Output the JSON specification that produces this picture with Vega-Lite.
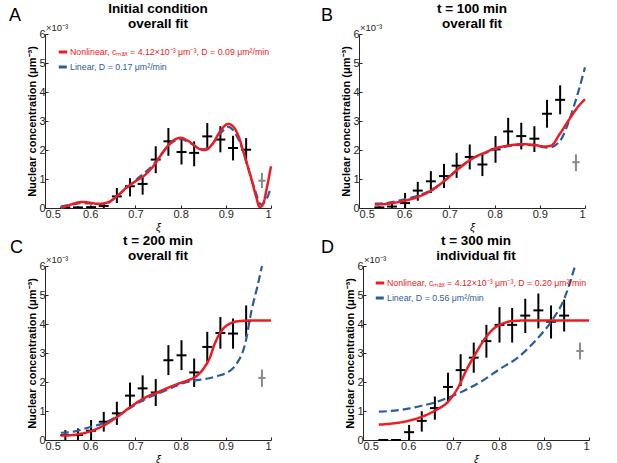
{
  "$schema": "https://vega.github.io/schema/vega-lite/v6.json",
  "background": "white",
  "padding": {"left": 9, "top": 1, "right": 0, "bottom": 0},
  "config": {
    "font": "Liberation Sans",
    "view": {"stroke": null},
    "axis": {"grid": false, "domainColor": "#262626", "tickColor": "#262626", "labelColor": "#262626", "labelFontSize": 11, "labelOverlap": false, "tickSize": -3, "labelPadding": 3, "titleColor": "#000000", "titleFontSize": 11, "titleFontWeight": "bold", "domainWidth": 1},
    "title": {"fontSize": 13.5, "fontWeight": "bold", "lineHeight": 15, "color": "#000000", "offset": -23}
  },
  "datasets": {
    "pts": [
      {"panel":"A","kind":"fit","xi":0.545,"c":0.02,"lo":0,"hi":0.06,"xlo":0.534,"xhi":0.556},
      {"panel":"A","kind":"fit","xi":0.573,"c":0.02,"lo":0,"hi":0.06,"xlo":0.562,"xhi":0.584},
      {"panel":"A","kind":"fit","xi":0.602,"c":0.03,"lo":0,"hi":0.08,"xlo":0.591,"xhi":0.613},
      {"panel":"A","kind":"fit","xi":0.630,"c":0.07,"lo":0,"hi":0.17,"xlo":0.619,"xhi":0.641},
      {"panel":"A","kind":"fit","xi":0.659,"c":0.40,"lo":0.17,"hi":0.69,"xlo":0.648,"xhi":0.670},
      {"panel":"A","kind":"fit","xi":0.688,"c":0.75,"lo":0.40,"hi":1.03,"xlo":0.677,"xhi":0.699},
      {"panel":"A","kind":"fit","xi":0.716,"c":0.83,"lo":0.46,"hi":1.09,"xlo":0.705,"xhi":0.727},
      {"panel":"A","kind":"fit","xi":0.745,"c":1.67,"lo":1.20,"hi":2.13,"xlo":0.734,"xhi":0.756},
      {"panel":"A","kind":"fit","xi":0.773,"c":2.30,"lo":1.80,"hi":2.76,"xlo":0.762,"xhi":0.784},
      {"panel":"A","kind":"fit","xi":0.802,"c":1.93,"lo":1.50,"hi":2.41,"xlo":0.791,"xhi":0.813},
      {"panel":"A","kind":"fit","xi":0.830,"c":1.90,"lo":1.44,"hi":2.30,"xlo":0.819,"xhi":0.841},
      {"panel":"A","kind":"fit","xi":0.859,"c":2.47,"lo":2.00,"hi":2.93,"xlo":0.848,"xhi":0.870},
      {"panel":"A","kind":"fit","xi":0.888,"c":2.36,"lo":1.92,"hi":2.82,"xlo":0.877,"xhi":0.899},
      {"panel":"A","kind":"fit","xi":0.916,"c":2.07,"lo":1.64,"hi":2.49,"xlo":0.905,"xhi":0.927},
      {"panel":"A","kind":"fit","xi":0.945,"c":2.01,"lo":1.55,"hi":2.41,"xlo":0.934,"xhi":0.956},
      {"panel":"A","kind":"excluded","xi":0.980,"c":0.94,"lo":0.69,"hi":1.21,"xlo":0.972,"xhi":0.988},
      {"panel":"B","kind":"fit","xi":0.545,"c":0.02,"lo":0,"hi":0.06,"xlo":0.534,"xhi":0.556},
      {"panel":"B","kind":"fit","xi":0.573,"c":0.05,"lo":0,"hi":0.15,"xlo":0.562,"xhi":0.584},
      {"panel":"B","kind":"fit","xi":0.602,"c":0.17,"lo":0,"hi":0.52,"xlo":0.591,"xhi":0.613},
      {"panel":"B","kind":"fit","xi":0.630,"c":0.60,"lo":0.25,"hi":0.90,"xlo":0.619,"xhi":0.641},
      {"panel":"B","kind":"fit","xi":0.659,"c":0.92,"lo":0.52,"hi":1.27,"xlo":0.648,"xhi":0.670},
      {"panel":"B","kind":"fit","xi":0.688,"c":1.10,"lo":0.69,"hi":1.52,"xlo":0.677,"xhi":0.699},
      {"panel":"B","kind":"fit","xi":0.716,"c":1.46,"lo":1.04,"hi":1.90,"xlo":0.705,"xhi":0.727},
      {"panel":"B","kind":"fit","xi":0.745,"c":1.76,"lo":1.33,"hi":2.19,"xlo":0.734,"xhi":0.756},
      {"panel":"B","kind":"fit","xi":0.773,"c":1.50,"lo":1.10,"hi":1.90,"xlo":0.762,"xhi":0.784},
      {"panel":"B","kind":"fit","xi":0.802,"c":2.02,"lo":1.56,"hi":2.48,"xlo":0.791,"xhi":0.813},
      {"panel":"B","kind":"fit","xi":0.830,"c":2.64,"lo":2.13,"hi":3.11,"xlo":0.819,"xhi":0.841},
      {"panel":"B","kind":"fit","xi":0.859,"c":2.48,"lo":2.02,"hi":2.94,"xlo":0.848,"xhi":0.870},
      {"panel":"B","kind":"fit","xi":0.888,"c":2.39,"lo":1.93,"hi":2.82,"xlo":0.877,"xhi":0.899},
      {"panel":"B","kind":"fit","xi":0.916,"c":3.25,"lo":2.77,"hi":3.73,"xlo":0.905,"xhi":0.927},
      {"panel":"B","kind":"fit","xi":0.945,"c":3.73,"lo":3.23,"hi":4.23,"xlo":0.934,"xhi":0.956},
      {"panel":"B","kind":"excluded","xi":0.980,"c":1.58,"lo":1.27,"hi":1.85,"xlo":0.972,"xhi":0.988},
      {"panel":"C","kind":"fit","xi":0.545,"c":0.17,"lo":0,"hi":0.34,"xlo":0.534,"xhi":0.556},
      {"panel":"C","kind":"fit","xi":0.573,"c":0.17,"lo":0,"hi":0.40,"xlo":0.562,"xhi":0.584},
      {"panel":"C","kind":"fit","xi":0.602,"c":0.32,"lo":0,"hi":0.69,"xlo":0.591,"xhi":0.613},
      {"panel":"C","kind":"fit","xi":0.630,"c":0.63,"lo":0.29,"hi":0.97,"xlo":0.619,"xhi":0.641},
      {"panel":"C","kind":"fit","xi":0.659,"c":0.92,"lo":0.52,"hi":1.32,"xlo":0.648,"xhi":0.670},
      {"panel":"C","kind":"fit","xi":0.688,"c":1.53,"lo":1.07,"hi":1.98,"xlo":0.677,"xhi":0.699},
      {"panel":"C","kind":"fit","xi":0.716,"c":1.78,"lo":1.32,"hi":2.23,"xlo":0.705,"xhi":0.727},
      {"panel":"C","kind":"fit","xi":0.745,"c":1.64,"lo":1.17,"hi":2.10,"xlo":0.734,"xhi":0.756},
      {"panel":"C","kind":"fit","xi":0.773,"c":2.75,"lo":2.24,"hi":3.27,"xlo":0.762,"xhi":0.784},
      {"panel":"C","kind":"fit","xi":0.802,"c":2.92,"lo":2.41,"hi":3.44,"xlo":0.791,"xhi":0.813},
      {"panel":"C","kind":"fit","xi":0.830,"c":2.33,"lo":1.83,"hi":2.81,"xlo":0.819,"xhi":0.841},
      {"panel":"C","kind":"fit","xi":0.859,"c":3.21,"lo":2.70,"hi":3.73,"xlo":0.848,"xhi":0.870},
      {"panel":"C","kind":"fit","xi":0.888,"c":3.69,"lo":3.15,"hi":4.24,"xlo":0.877,"xhi":0.899},
      {"panel":"C","kind":"fit","xi":0.916,"c":3.67,"lo":3.15,"hi":4.19,"xlo":0.905,"xhi":0.927},
      {"panel":"C","kind":"fit","xi":0.945,"c":4.10,"lo":3.56,"hi":4.64,"xlo":0.934,"xhi":0.956},
      {"panel":"C","kind":"excluded","xi":0.980,"c":2.14,"lo":1.83,"hi":2.43,"xlo":0.972,"xhi":0.988},
      {"panel":"D","kind":"fit","xi":0.545,"c":0.0,"lo":0,"hi":0.02,"xlo":0.534,"xhi":0.556},
      {"panel":"D","kind":"fit","xi":0.573,"c":0.0,"lo":0,"hi":0.02,"xlo":0.562,"xhi":0.584},
      {"panel":"D","kind":"fit","xi":0.602,"c":0.27,"lo":0,"hi":0.52,"xlo":0.591,"xhi":0.613},
      {"panel":"D","kind":"fit","xi":0.630,"c":0.66,"lo":0.29,"hi":0.99,"xlo":0.619,"xhi":0.641},
      {"panel":"D","kind":"fit","xi":0.659,"c":1.10,"lo":0.70,"hi":1.50,"xlo":0.648,"xhi":0.670},
      {"panel":"D","kind":"fit","xi":0.688,"c":1.83,"lo":1.33,"hi":2.32,"xlo":0.677,"xhi":0.699},
      {"panel":"D","kind":"fit","xi":0.716,"c":2.41,"lo":1.86,"hi":2.96,"xlo":0.705,"xhi":0.727},
      {"panel":"D","kind":"fit","xi":0.745,"c":2.84,"lo":2.32,"hi":3.36,"xlo":0.734,"xhi":0.756},
      {"panel":"D","kind":"fit","xi":0.773,"c":3.41,"lo":2.84,"hi":3.97,"xlo":0.762,"xhi":0.784},
      {"panel":"D","kind":"fit","xi":0.802,"c":3.97,"lo":3.36,"hi":4.58,"xlo":0.791,"xhi":0.813},
      {"panel":"D","kind":"fit","xi":0.830,"c":3.97,"lo":3.36,"hi":4.55,"xlo":0.819,"xhi":0.841},
      {"panel":"D","kind":"fit","xi":0.859,"c":4.29,"lo":3.69,"hi":4.87,"xlo":0.848,"xhi":0.870},
      {"panel":"D","kind":"fit","xi":0.888,"c":4.47,"lo":3.85,"hi":5.05,"xlo":0.877,"xhi":0.899},
      {"panel":"D","kind":"fit","xi":0.916,"c":4.08,"lo":3.50,"hi":4.64,"xlo":0.905,"xhi":0.927},
      {"panel":"D","kind":"fit","xi":0.945,"c":4.29,"lo":3.74,"hi":4.84,"xlo":0.934,"xhi":0.956},
      {"panel":"D","kind":"excluded","xi":0.980,"c":3.07,"lo":2.78,"hi":3.36,"xlo":0.972,"xhi":0.988}
    ],
    "curves": [
      {"panel":"A","model":"Nonlinear","xi":0.535,"c":0.0},
      {"panel":"A","model":"Nonlinear","xi":0.55,"c":0.08},
      {"panel":"A","model":"Nonlinear","xi":0.57,"c":0.18},
      {"panel":"A","model":"Nonlinear","xi":0.585,"c":0.21},
      {"panel":"A","model":"Nonlinear","xi":0.60,"c":0.18},
      {"panel":"A","model":"Nonlinear","xi":0.62,"c":0.14},
      {"panel":"A","model":"Nonlinear","xi":0.64,"c":0.2},
      {"panel":"A","model":"Nonlinear","xi":0.66,"c":0.42},
      {"panel":"A","model":"Nonlinear","xi":0.68,"c":0.7},
      {"panel":"A","model":"Nonlinear","xi":0.70,"c":0.92},
      {"panel":"A","model":"Nonlinear","xi":0.72,"c":1.12},
      {"panel":"A","model":"Nonlinear","xi":0.74,"c":1.45},
      {"panel":"A","model":"Nonlinear","xi":0.76,"c":1.9},
      {"panel":"A","model":"Nonlinear","xi":0.78,"c":2.28},
      {"panel":"A","model":"Nonlinear","xi":0.80,"c":2.42},
      {"panel":"A","model":"Nonlinear","xi":0.82,"c":2.28},
      {"panel":"A","model":"Nonlinear","xi":0.84,"c":2.05},
      {"panel":"A","model":"Nonlinear","xi":0.855,"c":2.0},
      {"panel":"A","model":"Nonlinear","xi":0.87,"c":2.2},
      {"panel":"A","model":"Nonlinear","xi":0.89,"c":2.7},
      {"panel":"A","model":"Nonlinear","xi":0.905,"c":2.9},
      {"panel":"A","model":"Nonlinear","xi":0.918,"c":2.78},
      {"panel":"A","model":"Nonlinear","xi":0.928,"c":2.48},
      {"panel":"A","model":"Nonlinear","xi":0.942,"c":1.78},
      {"panel":"A","model":"Nonlinear","xi":0.957,"c":0.98},
      {"panel":"A","model":"Nonlinear","xi":0.967,"c":0.4},
      {"panel":"A","model":"Nonlinear","xi":0.975,"c":0.03},
      {"panel":"A","model":"Nonlinear","xi":0.983,"c":0.15},
      {"panel":"A","model":"Nonlinear","xi":0.99,"c":0.63},
      {"panel":"A","model":"Nonlinear","xi":1.0,"c":1.44},
      {"panel":"A","model":"Linear","xi":0.535,"c":0.05},
      {"panel":"A","model":"Linear","xi":0.56,"c":0.12},
      {"panel":"A","model":"Linear","xi":0.585,"c":0.17},
      {"panel":"A","model":"Linear","xi":0.61,"c":0.14},
      {"panel":"A","model":"Linear","xi":0.635,"c":0.15},
      {"panel":"A","model":"Linear","xi":0.66,"c":0.42},
      {"panel":"A","model":"Linear","xi":0.70,"c":0.95},
      {"panel":"A","model":"Linear","xi":0.74,"c":1.5},
      {"panel":"A","model":"Linear","xi":0.78,"c":2.25},
      {"panel":"A","model":"Linear","xi":0.80,"c":2.38},
      {"panel":"A","model":"Linear","xi":0.82,"c":2.25},
      {"panel":"A","model":"Linear","xi":0.85,"c":2.02},
      {"panel":"A","model":"Linear","xi":0.87,"c":2.2},
      {"panel":"A","model":"Linear","xi":0.89,"c":2.6},
      {"panel":"A","model":"Linear","xi":0.905,"c":2.8},
      {"panel":"A","model":"Linear","xi":0.92,"c":2.6},
      {"panel":"A","model":"Linear","xi":0.935,"c":2.1},
      {"panel":"A","model":"Linear","xi":0.95,"c":1.35},
      {"panel":"A","model":"Linear","xi":0.965,"c":0.6},
      {"panel":"A","model":"Linear","xi":0.978,"c":0.12},
      {"panel":"A","model":"Linear","xi":0.99,"c":0.3},
      {"panel":"A","model":"Linear","xi":1.0,"c":0.72},
      {"panel":"B","model":"Nonlinear","xi":0.535,"c":0.12},
      {"panel":"B","model":"Nonlinear","xi":0.56,"c":0.14},
      {"panel":"B","model":"Nonlinear","xi":0.60,"c":0.25},
      {"panel":"B","model":"Nonlinear","xi":0.63,"c":0.38},
      {"panel":"B","model":"Nonlinear","xi":0.66,"c":0.6},
      {"panel":"B","model":"Nonlinear","xi":0.69,"c":0.95},
      {"panel":"B","model":"Nonlinear","xi":0.72,"c":1.35},
      {"panel":"B","model":"Nonlinear","xi":0.75,"c":1.7},
      {"panel":"B","model":"Nonlinear","xi":0.78,"c":1.92},
      {"panel":"B","model":"Nonlinear","xi":0.80,"c":2.05},
      {"panel":"B","model":"Nonlinear","xi":0.83,"c":2.15},
      {"panel":"B","model":"Nonlinear","xi":0.86,"c":2.2},
      {"panel":"B","model":"Nonlinear","xi":0.89,"c":2.17},
      {"panel":"B","model":"Nonlinear","xi":0.91,"c":2.12},
      {"panel":"B","model":"Nonlinear","xi":0.925,"c":2.15},
      {"panel":"B","model":"Nonlinear","xi":0.944,"c":2.55},
      {"panel":"B","model":"Nonlinear","xi":0.97,"c":3.17},
      {"panel":"B","model":"Nonlinear","xi":0.985,"c":3.5},
      {"panel":"B","model":"Nonlinear","xi":1.0,"c":3.75},
      {"panel":"B","model":"Linear","xi":0.535,"c":0.15},
      {"panel":"B","model":"Linear","xi":0.56,"c":0.17},
      {"panel":"B","model":"Linear","xi":0.60,"c":0.3},
      {"panel":"B","model":"Linear","xi":0.63,"c":0.42},
      {"panel":"B","model":"Linear","xi":0.66,"c":0.62},
      {"panel":"B","model":"Linear","xi":0.69,"c":0.95},
      {"panel":"B","model":"Linear","xi":0.72,"c":1.35},
      {"panel":"B","model":"Linear","xi":0.75,"c":1.7},
      {"panel":"B","model":"Linear","xi":0.78,"c":1.9},
      {"panel":"B","model":"Linear","xi":0.80,"c":2.02},
      {"panel":"B","model":"Linear","xi":0.83,"c":2.13},
      {"panel":"B","model":"Linear","xi":0.86,"c":2.18},
      {"panel":"B","model":"Linear","xi":0.89,"c":2.15},
      {"panel":"B","model":"Linear","xi":0.92,"c":2.08},
      {"panel":"B","model":"Linear","xi":0.944,"c":2.3},
      {"panel":"B","model":"Linear","xi":0.97,"c":3.25},
      {"panel":"B","model":"Linear","xi":0.985,"c":4.0},
      {"panel":"B","model":"Linear","xi":1.0,"c":4.85},
      {"panel":"C","model":"Nonlinear","xi":0.535,"c":0.15},
      {"panel":"C","model":"Nonlinear","xi":0.56,"c":0.17},
      {"panel":"C","model":"Nonlinear","xi":0.60,"c":0.3},
      {"panel":"C","model":"Nonlinear","xi":0.63,"c":0.5},
      {"panel":"C","model":"Nonlinear","xi":0.66,"c":0.8},
      {"panel":"C","model":"Nonlinear","xi":0.69,"c":1.15},
      {"panel":"C","model":"Nonlinear","xi":0.72,"c":1.45},
      {"panel":"C","model":"Nonlinear","xi":0.75,"c":1.65},
      {"panel":"C","model":"Nonlinear","xi":0.78,"c":1.85},
      {"panel":"C","model":"Nonlinear","xi":0.80,"c":1.97},
      {"panel":"C","model":"Nonlinear","xi":0.82,"c":2.08},
      {"panel":"C","model":"Nonlinear","xi":0.835,"c":2.2},
      {"panel":"C","model":"Nonlinear","xi":0.85,"c":2.45},
      {"panel":"C","model":"Nonlinear","xi":0.865,"c":2.85},
      {"panel":"C","model":"Nonlinear","xi":0.875,"c":3.3},
      {"panel":"C","model":"Nonlinear","xi":0.89,"c":3.75},
      {"panel":"C","model":"Nonlinear","xi":0.91,"c":4.02},
      {"panel":"C","model":"Nonlinear","xi":0.93,"c":4.1},
      {"panel":"C","model":"Nonlinear","xi":0.96,"c":4.12},
      {"panel":"C","model":"Nonlinear","xi":1.0,"c":4.12},
      {"panel":"C","model":"Linear","xi":0.535,"c":0.25},
      {"panel":"C","model":"Linear","xi":0.56,"c":0.28},
      {"panel":"C","model":"Linear","xi":0.60,"c":0.45},
      {"panel":"C","model":"Linear","xi":0.63,"c":0.58},
      {"panel":"C","model":"Linear","xi":0.66,"c":0.82},
      {"panel":"C","model":"Linear","xi":0.69,"c":1.12},
      {"panel":"C","model":"Linear","xi":0.72,"c":1.4},
      {"panel":"C","model":"Linear","xi":0.75,"c":1.6},
      {"panel":"C","model":"Linear","xi":0.78,"c":1.8},
      {"panel":"C","model":"Linear","xi":0.80,"c":1.93},
      {"panel":"C","model":"Linear","xi":0.83,"c":2.05},
      {"panel":"C","model":"Linear","xi":0.86,"c":2.12},
      {"panel":"C","model":"Linear","xi":0.88,"c":2.2},
      {"panel":"C","model":"Linear","xi":0.90,"c":2.3},
      {"panel":"C","model":"Linear","xi":0.92,"c":2.55},
      {"panel":"C","model":"Linear","xi":0.943,"c":3.33},
      {"panel":"C","model":"Linear","xi":0.957,"c":4.47},
      {"panel":"C","model":"Linear","xi":0.97,"c":5.3},
      {"panel":"C","model":"Linear","xi":0.98,"c":6.0},
      {"panel":"D","model":"Nonlinear","xi":0.535,"c":0.53},
      {"panel":"D","model":"Nonlinear","xi":0.56,"c":0.56},
      {"panel":"D","model":"Nonlinear","xi":0.60,"c":0.66},
      {"panel":"D","model":"Nonlinear","xi":0.63,"c":0.8},
      {"panel":"D","model":"Nonlinear","xi":0.66,"c":1.02},
      {"panel":"D","model":"Nonlinear","xi":0.69,"c":1.35},
      {"panel":"D","model":"Nonlinear","xi":0.71,"c":1.8},
      {"panel":"D","model":"Nonlinear","xi":0.73,"c":2.45},
      {"panel":"D","model":"Nonlinear","xi":0.75,"c":3.0},
      {"panel":"D","model":"Nonlinear","xi":0.77,"c":3.5},
      {"panel":"D","model":"Nonlinear","xi":0.79,"c":3.85},
      {"panel":"D","model":"Nonlinear","xi":0.81,"c":4.02},
      {"panel":"D","model":"Nonlinear","xi":0.83,"c":4.1},
      {"panel":"D","model":"Nonlinear","xi":0.86,"c":4.12},
      {"panel":"D","model":"Nonlinear","xi":1.0,"c":4.12},
      {"panel":"D","model":"Linear","xi":0.535,"c":0.98},
      {"panel":"D","model":"Linear","xi":0.56,"c":1.0},
      {"panel":"D","model":"Linear","xi":0.60,"c":1.08},
      {"panel":"D","model":"Linear","xi":0.63,"c":1.18},
      {"panel":"D","model":"Linear","xi":0.66,"c":1.3},
      {"panel":"D","model":"Linear","xi":0.695,"c":1.5},
      {"panel":"D","model":"Linear","xi":0.73,"c":1.75},
      {"panel":"D","model":"Linear","xi":0.77,"c":2.1},
      {"panel":"D","model":"Linear","xi":0.80,"c":2.42},
      {"panel":"D","model":"Linear","xi":0.843,"c":2.85},
      {"panel":"D","model":"Linear","xi":0.88,"c":3.4},
      {"panel":"D","model":"Linear","xi":0.917,"c":4.1},
      {"panel":"D","model":"Linear","xi":0.946,"c":4.9},
      {"panel":"D","model":"Linear","xi":0.969,"c":6.0}
    ]
  },
  "vconcat": [
    {
      "hconcat": [
        {
          "width": 226, "height": 174,
          "title": {"text": ["Initial condition", "overall fit"]},
          "layer": [
            {"data": {"name": "pts"}, "transform": [{"filter": "datum.panel === 'A'"}], "mark": {"type": "rule", "strokeWidth": 2},
             "encoding": {"x": {"field": "xi", "type": "quantitative", "scale": {"domain": [0.5, 1], "nice": false, "zero": false}, "axis": {"values": [0.5, 0.6, 0.7, 0.8, 0.9, 1], "format": "~g", "labelOverlap": false, "title": "ξ", "titleFontStyle": "italic", "titleFontWeight": "normal", "titleFontSize": 11, "titlePadding": 2}},
                          "y": {"field": "lo", "type": "quantitative", "scale": {"domain": [0, 6], "nice": false}, "axis": {"values": [0, 1, 2, 3, 4, 5, 6], "labelOverlap": false, "tickCount": 7, "title": "Nuclear concentration (μm⁻³)", "titlePadding": 1}},
                          "y2": {"field": "hi"},
                          "color": {"condition": {"test": "datum.kind === 'excluded'", "value": "#8a8a8a"}, "value": "#000000"}}},
            {"data": {"name": "pts"}, "transform": [{"filter": "datum.panel === 'A'"}], "mark": {"type": "rule", "strokeWidth": 2},
             "encoding": {"x": {"field": "xlo", "type": "quantitative"}, "x2": {"field": "xhi"}, "y": {"field": "c", "type": "quantitative"},
                          "color": {"condition": {"test": "datum.kind === 'excluded'", "value": "#8a8a8a"}, "value": "#000000"}}},
            {"data": {"name": "curves"}, "transform": [{"filter": "datum.panel === 'A' && datum.model === 'Linear'"}], "mark": {"type": "line", "strokeWidth": 2.2, "interpolate": "monotone"},
             "encoding": {"x": {"field": "xi", "type": "quantitative"}, "y": {"field": "c", "type": "quantitative"},
                          "color": {"field": "model", "type": "nominal", "scale": {"domain": ["Nonlinear", "Linear"], "range": ["#ec1c24", "#2b5d9b"]},
                                    "legend": {"title": null, "orient": "top-left", "offset": 12, "padding": 0, "symbolType": "stroke", "symbolSize": 72, "symbolStrokeWidth": 3, "labelFontSize": 8.8, "labelLimit": 400, "rowPadding": 3, "labelOffset": 1,
                                               "labelExpr": "datum.value === 'Nonlinear' ? 'Nonlinear, cₘₐₓ = 4.12×10⁻³ μm⁻³, D = 0.09 μm²/min' : 'Linear, D = 0.17 μm²/min'",
                                               "encode": {"labels": {"update": {"fill": {"signal": "datum.value === 'Nonlinear' ? '#ec1c24' : '#2b5d9b'"}}}}}},
                          "strokeDash": {"field": "model", "type": "nominal", "scale": {"domain": ["Nonlinear", "Linear"], "range": [[1, 0], [8, 4]]},
                                    "legend": {"title": null, "orient": "top-left", "offset": 12, "padding": 0, "symbolType": "stroke", "symbolSize": 72, "symbolStrokeWidth": 3, "labelFontSize": 8.8, "labelLimit": 400, "rowPadding": 3, "labelOffset": 1,
                                               "labelExpr": "datum.value === 'Nonlinear' ? 'Nonlinear, cₘₐₓ = 4.12×10⁻³ μm⁻³, D = 0.09 μm²/min' : 'Linear, D = 0.17 μm²/min'",
                                               "encode": {"labels": {"update": {"fill": {"signal": "datum.value === 'Nonlinear' ? '#ec1c24' : '#2b5d9b'"}}}}}}}},
            {"data": {"name": "curves"}, "transform": [{"filter": "datum.panel === 'A' && datum.model === 'Nonlinear'"}], "mark": {"type": "line", "strokeWidth": 2.5, "interpolate": "monotone"},
             "encoding": {"x": {"field": "xi", "type": "quantitative"}, "y": {"field": "c", "type": "quantitative"},
                          "color": {"field": "model", "type": "nominal"}, "strokeDash": {"field": "model", "type": "nominal"}}},
            {"data": {"values": [{"t": "×10⁻³"}]}, "mark": {"type": "text", "fontSize": 9.5, "align": "left", "baseline": "bottom", "dx": 1, "dy": -1, "color": "#262626"},
             "encoding": {"x": {"datum": 0.5}, "y": {"datum": 6}, "text": {"field": "t"}}},
            {"data": {"values": [{"t": "A"}]}, "mark": {"type": "text", "fontSize": 18, "align": "left", "baseline": "top", "dx": -36, "dy": -27, "color": "#000000"},
             "encoding": {"x": {"datum": 0.5}, "y": {"datum": 6}, "text": {"field": "t"}}}
          ]
        },
        {
          "width": 226, "height": 174,
          "title": {"text": ["t = 100 min", "overall fit"]},
          "layer": [
            {"data": {"name": "pts"}, "transform": [{"filter": "datum.panel === 'B'"}], "mark": {"type": "rule", "strokeWidth": 2},
             "encoding": {"x": {"field": "xi", "type": "quantitative", "scale": {"domain": [0.5, 1], "nice": false, "zero": false}, "axis": {"values": [0.5, 0.6, 0.7, 0.8, 0.9, 1], "format": "~g", "labelOverlap": false, "title": "ξ", "titleFontStyle": "italic", "titleFontWeight": "normal", "titleFontSize": 11, "titlePadding": 2}},
                          "y": {"field": "lo", "type": "quantitative", "scale": {"domain": [0, 6], "nice": false}, "axis": {"values": [0, 1, 2, 3, 4, 5, 6], "labelOverlap": false, "tickCount": 7, "title": "Nuclear concentration (μm⁻³)", "titlePadding": 1}},
                          "y2": {"field": "hi"},
                          "color": {"condition": {"test": "datum.kind === 'excluded'", "value": "#8a8a8a"}, "value": "#000000"}}},
            {"data": {"name": "pts"}, "transform": [{"filter": "datum.panel === 'B'"}], "mark": {"type": "rule", "strokeWidth": 2},
             "encoding": {"x": {"field": "xlo", "type": "quantitative"}, "x2": {"field": "xhi"}, "y": {"field": "c", "type": "quantitative"},
                          "color": {"condition": {"test": "datum.kind === 'excluded'", "value": "#8a8a8a"}, "value": "#000000"}}},
            {"data": {"name": "curves"}, "transform": [{"filter": "datum.panel === 'B' && datum.model === 'Linear'"}], "mark": {"type": "line", "strokeWidth": 2.2, "interpolate": "monotone"},
             "encoding": {"x": {"field": "xi", "type": "quantitative"}, "y": {"field": "c", "type": "quantitative"},
                          "color": {"field": "model", "type": "nominal", "scale": {"domain": ["Nonlinear", "Linear"], "range": ["#ec1c24", "#2b5d9b"]}, "legend": null},
                          "strokeDash": {"field": "model", "type": "nominal", "scale": {"domain": ["Nonlinear", "Linear"], "range": [[1, 0], [8, 4]]}, "legend": null}}},
            {"data": {"name": "curves"}, "transform": [{"filter": "datum.panel === 'B' && datum.model === 'Nonlinear'"}], "mark": {"type": "line", "strokeWidth": 2.5, "interpolate": "monotone"},
             "encoding": {"x": {"field": "xi", "type": "quantitative"}, "y": {"field": "c", "type": "quantitative"},
                          "color": {"field": "model", "type": "nominal"}, "strokeDash": {"field": "model", "type": "nominal"}}},
            {"data": {"values": [{"t": "×10⁻³"}]}, "mark": {"type": "text", "fontSize": 9.5, "align": "left", "baseline": "bottom", "dx": 1, "dy": -1, "color": "#262626"},
             "encoding": {"x": {"datum": 0.5}, "y": {"datum": 6}, "text": {"field": "t"}}},
            {"data": {"values": [{"t": "B"}]}, "mark": {"type": "text", "fontSize": 18, "align": "left", "baseline": "top", "dx": -38, "dy": -27, "color": "#000000"},
             "encoding": {"x": {"datum": 0.5}, "y": {"datum": 6}, "text": {"field": "t"}}}
          ]
        }
      ],
      "spacing": 45,
      "resolve": {"scale": {"color": "independent", "strokeDash": "independent"}, "legend": {"color": "independent", "strokeDash": "independent"}}
    },
    {
      "hconcat": [
        {
          "width": 226, "height": 174,
          "title": {"text": ["t = 200 min", "overall fit"]},
          "layer": [
            {"data": {"name": "pts"}, "transform": [{"filter": "datum.panel === 'C'"}], "mark": {"type": "rule", "strokeWidth": 2},
             "encoding": {"x": {"field": "xi", "type": "quantitative", "scale": {"domain": [0.5, 1], "nice": false, "zero": false}, "axis": {"values": [0.5, 0.6, 0.7, 0.8, 0.9, 1], "format": "~g", "labelOverlap": false, "title": "ξ", "titleFontStyle": "italic", "titleFontWeight": "normal", "titleFontSize": 11, "titlePadding": 2}},
                          "y": {"field": "lo", "type": "quantitative", "scale": {"domain": [0, 6], "nice": false}, "axis": {"values": [0, 1, 2, 3, 4, 5, 6], "labelOverlap": false, "tickCount": 7, "title": "Nuclear concentration (μm⁻³)", "titlePadding": 1}},
                          "y2": {"field": "hi"},
                          "color": {"condition": {"test": "datum.kind === 'excluded'", "value": "#8a8a8a"}, "value": "#000000"}}},
            {"data": {"name": "pts"}, "transform": [{"filter": "datum.panel === 'C'"}], "mark": {"type": "rule", "strokeWidth": 2},
             "encoding": {"x": {"field": "xlo", "type": "quantitative"}, "x2": {"field": "xhi"}, "y": {"field": "c", "type": "quantitative"},
                          "color": {"condition": {"test": "datum.kind === 'excluded'", "value": "#8a8a8a"}, "value": "#000000"}}},
            {"data": {"name": "curves"}, "transform": [{"filter": "datum.panel === 'C' && datum.model === 'Linear'"}], "mark": {"type": "line", "strokeWidth": 2.2, "interpolate": "monotone"},
             "encoding": {"x": {"field": "xi", "type": "quantitative"}, "y": {"field": "c", "type": "quantitative"},
                          "color": {"field": "model", "type": "nominal", "scale": {"domain": ["Nonlinear", "Linear"], "range": ["#ec1c24", "#2b5d9b"]}, "legend": null},
                          "strokeDash": {"field": "model", "type": "nominal", "scale": {"domain": ["Nonlinear", "Linear"], "range": [[1, 0], [8, 4]]}, "legend": null}}},
            {"data": {"name": "curves"}, "transform": [{"filter": "datum.panel === 'C' && datum.model === 'Nonlinear'"}], "mark": {"type": "line", "strokeWidth": 2.5, "interpolate": "monotone"},
             "encoding": {"x": {"field": "xi", "type": "quantitative"}, "y": {"field": "c", "type": "quantitative"},
                          "color": {"field": "model", "type": "nominal"}, "strokeDash": {"field": "model", "type": "nominal"}}},
            {"data": {"values": [{"t": "×10⁻³"}]}, "mark": {"type": "text", "fontSize": 9.5, "align": "left", "baseline": "bottom", "dx": 1, "dy": -1, "color": "#262626"},
             "encoding": {"x": {"datum": 0.5}, "y": {"datum": 6}, "text": {"field": "t"}}},
            {"data": {"values": [{"t": "C"}]}, "mark": {"type": "text", "fontSize": 18, "align": "left", "baseline": "top", "dx": -35, "dy": -27, "color": "#000000"},
             "encoding": {"x": {"datum": 0.5}, "y": {"datum": 6}, "text": {"field": "t"}}}
          ]
        },
        {
          "width": 226, "height": 174,
          "title": {"text": ["t = 300 min", "individual fit"]},
          "layer": [
            {"data": {"name": "pts"}, "transform": [{"filter": "datum.panel === 'D'"}], "mark": {"type": "rule", "strokeWidth": 2},
             "encoding": {"x": {"field": "xi", "type": "quantitative", "scale": {"domain": [0.5, 1], "nice": false, "zero": false}, "axis": {"values": [0.5, 0.6, 0.7, 0.8, 0.9, 1], "format": "~g", "labelOverlap": false, "title": "ξ", "titleFontStyle": "italic", "titleFontWeight": "normal", "titleFontSize": 11, "titlePadding": 2}},
                          "y": {"field": "lo", "type": "quantitative", "scale": {"domain": [0, 6], "nice": false}, "axis": {"values": [0, 1, 2, 3, 4, 5, 6], "labelOverlap": false, "tickCount": 7, "title": "Nuclear concentration (μm⁻³)", "titlePadding": 1}},
                          "y2": {"field": "hi"},
                          "color": {"condition": {"test": "datum.kind === 'excluded'", "value": "#8a8a8a"}, "value": "#000000"}}},
            {"data": {"name": "pts"}, "transform": [{"filter": "datum.panel === 'D'"}], "mark": {"type": "rule", "strokeWidth": 2},
             "encoding": {"x": {"field": "xlo", "type": "quantitative"}, "x2": {"field": "xhi"}, "y": {"field": "c", "type": "quantitative"},
                          "color": {"condition": {"test": "datum.kind === 'excluded'", "value": "#8a8a8a"}, "value": "#000000"}}},
            {"data": {"name": "curves"}, "transform": [{"filter": "datum.panel === 'D' && datum.model === 'Linear'"}], "mark": {"type": "line", "strokeWidth": 2.2, "interpolate": "monotone"},
             "encoding": {"x": {"field": "xi", "type": "quantitative"}, "y": {"field": "c", "type": "quantitative"},
                          "color": {"field": "model", "type": "nominal", "scale": {"domain": ["Nonlinear", "Linear"], "range": ["#ec1c24", "#2b5d9b"]},
                                    "legend": {"title": null, "orient": "top-left", "offset": 11, "padding": 0, "symbolType": "stroke", "symbolSize": 72, "symbolStrokeWidth": 3, "labelFontSize": 8.8, "labelLimit": 400, "rowPadding": 3, "labelOffset": 1,
                                               "labelExpr": "datum.value === 'Nonlinear' ? 'Nonlinear, cₘₐₓ = 4.12×10⁻³ μm⁻³, D = 0.20 μm²/min' : 'Linear, D = 0.56 μm²/min'",
                                               "encode": {"labels": {"update": {"fill": {"signal": "datum.value === 'Nonlinear' ? '#ec1c24' : '#2b5d9b'"}}}}}},
                          "strokeDash": {"field": "model", "type": "nominal", "scale": {"domain": ["Nonlinear", "Linear"], "range": [[1, 0], [8, 4]]},
                                    "legend": {"title": null, "orient": "top-left", "offset": 11, "padding": 0, "symbolType": "stroke", "symbolSize": 72, "symbolStrokeWidth": 3, "labelFontSize": 8.8, "labelLimit": 400, "rowPadding": 3, "labelOffset": 1,
                                               "labelExpr": "datum.value === 'Nonlinear' ? 'Nonlinear, cₘₐₓ = 4.12×10⁻³ μm⁻³, D = 0.20 μm²/min' : 'Linear, D = 0.56 μm²/min'",
                                               "encode": {"labels": {"update": {"fill": {"signal": "datum.value === 'Nonlinear' ? '#ec1c24' : '#2b5d9b'"}}}}}}}},
            {"data": {"name": "curves"}, "transform": [{"filter": "datum.panel === 'D' && datum.model === 'Nonlinear'"}], "mark": {"type": "line", "strokeWidth": 2.5, "interpolate": "monotone"},
             "encoding": {"x": {"field": "xi", "type": "quantitative"}, "y": {"field": "c", "type": "quantitative"},
                          "color": {"field": "model", "type": "nominal"}, "strokeDash": {"field": "model", "type": "nominal"}}},
            {"data": {"values": [{"t": "×10⁻³"}]}, "mark": {"type": "text", "fontSize": 9.5, "align": "left", "baseline": "bottom", "dx": 1, "dy": -1, "color": "#262626"},
             "encoding": {"x": {"datum": 0.5}, "y": {"datum": 6}, "text": {"field": "t"}}},
            {"data": {"values": [{"t": "D"}]}, "mark": {"type": "text", "fontSize": 18, "align": "left", "baseline": "top", "dx": -42, "dy": -27, "color": "#000000"},
             "encoding": {"x": {"datum": 0.5}, "y": {"datum": 6}, "text": {"field": "t"}}}
          ]
        }
      ],
      "spacing": 45,
      "resolve": {"scale": {"color": "independent", "strokeDash": "independent"}, "legend": {"color": "independent", "strokeDash": "independent"}}
    }
  ],
  "spacing": 1,
  "resolve": {"scale": {"color": "independent", "strokeDash": "independent"}, "legend": {"color": "independent", "strokeDash": "independent"}}
}
